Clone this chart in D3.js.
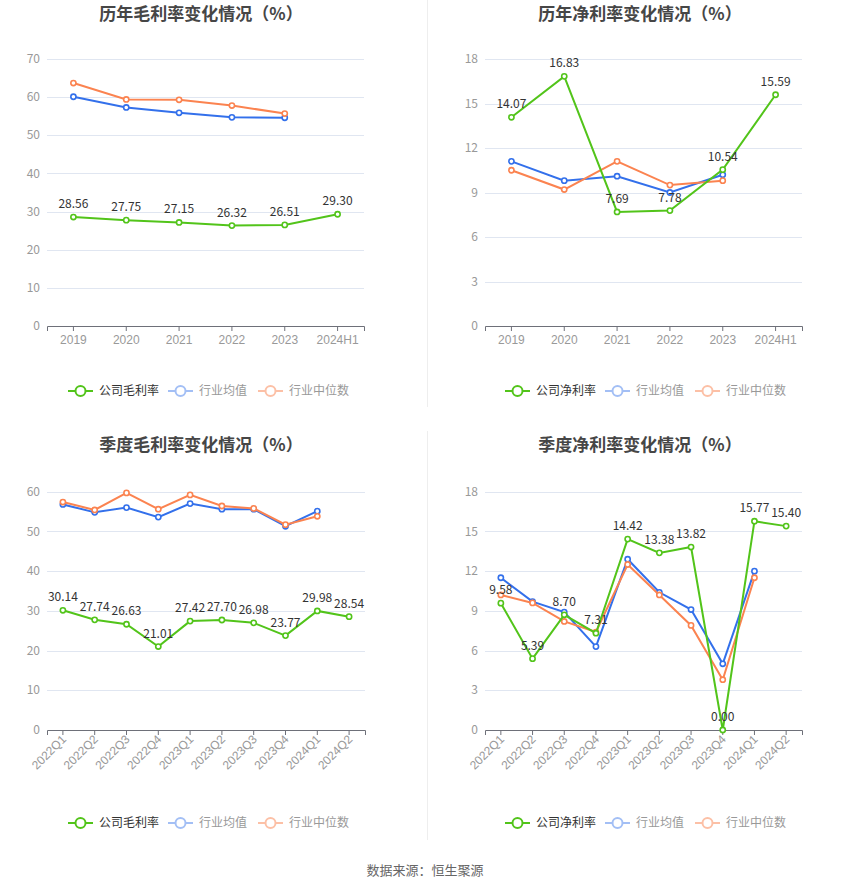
<!DOCTYPE html>
<html><head><meta charset="utf-8">
<script src="https://cdn.jsdelivr.net/npm/d3@7"></script>
<style>body{margin:0;background:#fff;}svg{display:block;font-family:"Microsoft YaHei","Noto Sans CJK SC",sans-serif;}</style>
</head><body><svg id="c" width="850" height="891"></svg>
<script>
const yearCats = ["2019","2020","2021","2022","2023","2024H1"];
const quarterCats = ["2022Q1","2022Q2","2022Q3","2022Q4","2023Q1","2023Q2","2023Q3","2023Q4","2024Q1","2024Q2"];

const yearGrossCompany = [28.56,27.75,27.15,26.32,26.51,29.30];
const yearGrossAvg = [60.1,57.3,55.9,54.7,54.6];
const yearGrossMedian = [63.7,59.4,59.3,57.8,55.7];

const yearNetCompany = [14.07,16.83,7.69,7.78,10.54,15.59];
const yearNetAvg = [11.1,9.8,10.1,9.0,10.2];
const yearNetMedian = [10.5,9.2,11.1,9.5,9.8];

const qGrossCompany = [30.14,27.74,26.63,21.01,27.42,27.70,26.98,23.77,29.98,28.54];
const qGrossAvg = [56.8,54.8,56.0,53.6,57.0,55.6,55.6,51.3,55.1];
const qGrossMedian = [57.4,55.4,59.7,55.6,59.2,56.4,55.8,51.7,53.8];

const qNetCompany = [9.58,5.39,8.70,7.31,14.42,13.38,13.82,0.00,15.77,15.40];
const qNetAvg = [11.5,9.7,8.9,6.3,12.9,10.4,9.1,5.0,12.0];
const qNetMedian = [10.2,9.6,8.2,7.4,12.5,10.2,7.9,3.8,11.5];

const grossTicks = [0,10,20,30,40,50,60,70];
const qGrossTicks = [0,10,20,30,40,50,60];
const netTicks = [0,3,6,9,12,15,18];

const C_GREEN = "#52c41a", C_BLUE = "#3370eb", C_ORANGE = "#fb8350";
const L_BLUE = "#a3bff5", L_ORANGE = "#fcc0a6";

const svg = d3.select("#c");

// dividers
svg.append("line").attr("x1",427.5).attr("x2",427.5).attr("y1",0).attr("y2",407).attr("stroke","#eee");
svg.append("line").attr("x1",427.5).attr("x2",427.5).attr("y1",431).attr("y2",840).attr("stroke","#eee");

function panel(o){
  const g = svg.append("g");
  g.append("text").attr("x",o.cx).attr("y",o.titleY).attr("text-anchor","middle")
    .attr("font-size",17).attr("font-weight","bold").attr("fill","#464646").text(o.title);
  const x = d3.scaleBand().domain(o.cats).range([o.left,o.right]);
  const y = d3.scaleLinear().domain([0,o.ticks[o.ticks.length-1]]).range([o.bottom,o.top]);
  // grid
  g.selectAll(".grid").data(o.ticks.filter(t=>t>0)).join("line")
    .attr("x1",o.left).attr("x2",o.right).attr("y1",d=>Math.round(y(d))+0.5).attr("y2",d=>Math.round(y(d))+0.5)
    .attr("stroke","#e0e6f1");
  // y labels
  g.selectAll(".yl").data(o.ticks).join("text").attr("x",o.left-7).attr("y",d=>y(d)).attr("dy","0.35em")
    .attr("text-anchor","end").attr("font-size",12).attr("fill","#999").text(d=>d);
  // x axis
  const xa = g.append("g").attr("transform",`translate(0,${o.bottom})`)
    .call(d3.axisBottom(x).tickSizeOuter(0).tickSize(5));
  xa.select(".domain").attr("stroke","#6e7079");
  xa.selectAll(".tick line").attr("stroke","#6e7079");
  xa.selectAll(".tick text").attr("fill","#999").attr("font-size",12).attr("font-family",null);
  if(o.rotate){
    xa.selectAll(".tick text").attr("text-anchor","end").attr("dy",null).attr("y",0)
      .attr("transform","translate(4,10) rotate(-45)");
  } else {
    xa.selectAll(".tick text").attr("y",9);
  }
  const cx = d=>x(d)+x.bandwidth()/2;
  const line = d3.line().x((d,i)=>cx(o.cats[i])).y(d=>y(d));
  const series = [[o.avg,C_BLUE],[o.median,C_ORANGE],[o.company,C_GREEN]];
  series.forEach(([vals,col])=>{
    g.append("path").datum(vals).attr("d",line).attr("fill","none").attr("stroke",col).attr("stroke-width",2);
    g.selectAll(null).data(vals).join("circle").attr("cx",(d,i)=>cx(o.cats[i])).attr("cy",d=>y(d))
      .attr("r",2.6).attr("fill","#fff").attr("stroke",col).attr("stroke-width",1.6);
  });
  g.selectAll(null).data(o.company).join("text").attr("x",(d,i)=>cx(o.cats[i])).attr("y",d=>y(d)-9)
    .attr("text-anchor","middle").attr("font-size",12).attr("fill","#333").text(d=>d.toFixed(2));
  // legend
  const ly = o.legendY;
  const items = [[o.legendName,C_GREEN,"#333",o.lx],["行业均值",L_BLUE,"#999",o.lx+100],["行业中位数",L_ORANGE,"#999",o.lx+190]];
  items.forEach(([name,col,tc,lx])=>{
    g.append("line").attr("x1",lx).attr("x2",lx+25).attr("y1",ly).attr("y2",ly).attr("stroke",col).attr("stroke-width",2);
    g.append("circle").attr("cx",lx+12.5).attr("cy",ly).attr("r",5).attr("fill","#fff").attr("stroke",col).attr("stroke-width",2);
    g.append("text").attr("x",lx+31).attr("y",ly).attr("dy","0.35em").attr("font-size",12).attr("fill",tc).text(name);
  });
}

panel({title:"历年毛利率变化情况（%）",cx:201,titleY:20,cats:yearCats,left:47,right:364,top:59,bottom:326,
  ticks:grossTicks,company:yearGrossCompany,avg:yearGrossAvg,median:yearGrossMedian,legendY:391,lx:68,legendName:"公司毛利率"});
panel({title:"历年净利率变化情况（%）",cx:640,titleY:20,cats:yearCats,left:485,right:802,top:59,bottom:326,
  ticks:netTicks,company:yearNetCompany,avg:yearNetAvg,median:yearNetMedian,legendY:391,lx:505,legendName:"公司净利率"});
panel({title:"季度毛利率变化情况（%）",cx:201,titleY:451,cats:quarterCats,left:47,right:365,top:491.7,bottom:730,
  ticks:qGrossTicks,company:qGrossCompany,avg:qGrossAvg,median:qGrossMedian,legendY:823,lx:68,legendName:"公司毛利率",rotate:true});
panel({title:"季度净利率变化情况（%）",cx:640,titleY:451,cats:quarterCats,left:485,right:802,top:491.7,bottom:730,
  ticks:netTicks,company:qNetCompany,avg:qNetAvg,median:qNetMedian,legendY:823,lx:505,legendName:"公司净利率",rotate:true});

svg.append("text").attr("x",425).attr("y",875).attr("text-anchor","middle").attr("font-size",13).attr("fill","#666").text("数据来源：恒生聚源");
</script></body></html>
